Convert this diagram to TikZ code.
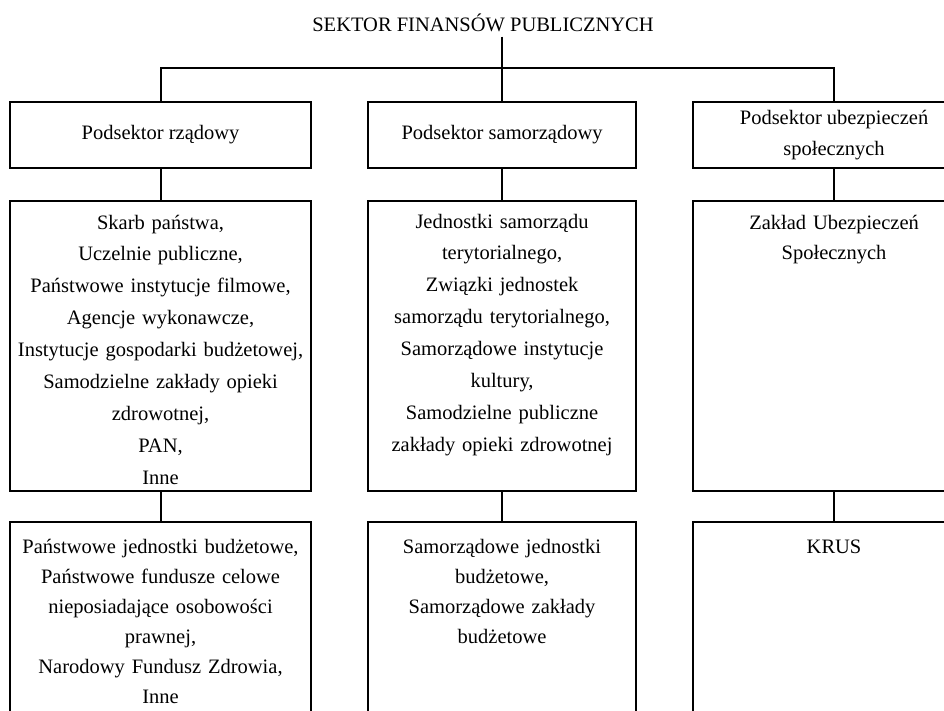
\documentclass[tikz,border=0pt]{standalone}
\usepackage{fontspec}
\setmainfont{Liberation Serif}
\usetikzlibrary{positioning}

\begin{document}
\begin{tikzpicture}[x=1pt, y=-1pt, line width=2.1pt,
    font=\fontsize{20.5}{30.5}\selectfont,
    head/.style={draw, inner sep=0pt, anchor=north west, minimum height=66pt, align=center},
    cell/.style={draw, inner sep=0pt, anchor=north west, align=center}]
    \useasboundingbox (0,0) rectangle (944,711);
    \node[anchor=base] (title) at (483,32) {SEKTOR FINANSÓW PUBLICZNYCH};
    % podsektory
    \node[head, minimum width=301pt] (p1) at (9,101) {Podsektor rządowy};
    \node[head, minimum width=268pt] (p2) at (367,101) {Podsektor samorządowy};
    \node[head, minimum width=282pt] (p3) at (692,101) {Podsektor ubezpieczeń\\społecznych};
    % jednostki
    \node[cell, text width=301pt, text height=28pt, text depth=262pt,
      font=\fontsize{20.5}{31.9}\selectfont] (g1) at (9,200)
      {Skarb państwa,\\ Uczelnie publiczne,\\ Państwowe instytucje filmowe,\\
       Agencje wykonawcze,\\ Instytucje gospodarki budżetowej,\\
       Samodzielne zakłady opieki\\ zdrowotnej,\\ PAN,\\ Inne};
    \node[cell, text width=268pt, text height=27pt, text depth=263pt,
      font=\fontsize{20.5}{31.9}\selectfont] (g2) at (367,200)
      {Jednostki samorządu\\ terytorialnego,\\ Związki jednostek\\
       samorządu terytorialnego,\\ Samorządowe instytucje\\ kultury,\\
       Samodzielne publiczne\\ zakłady opieki zdrowotnej};
    \node[cell, text width=282pt, text height=28pt, text depth=262pt] (g3) at (692,200)
      {Zakład Ubezpieczeń\\ Społecznych};
    % fundusze
    \node[cell, text width=301pt, text height=31pt, text depth=200pt,
      font=\fontsize{20.5}{30}\selectfont] (f1) at (9,521)
      {Państwowe jednostki budżetowe,\\ Państwowe fundusze celowe\\
       nieposiadające osobowości\\ prawnej,\\ Narodowy Fundusz Zdrowia,\\ Inne};
    \node[cell, text width=268pt, text height=31pt, text depth=200pt,
      font=\fontsize{20.5}{30}\selectfont] (f2) at (367,521)
      {Samorządowe jednostki\\ budżetowe,\\ Samorządowe zakłady\\ budżetowe};
    \node[cell, text width=282pt, text height=31pt, text depth=200pt] (f3) at (692,521) {KRUS};
    % polaczenia
    \coordinate (bus) at (502,68);
    \draw (title.south -| p2.north) -- (p2.north);
    \draw (p1.north) |- (bus) -| (p3.north);
    \draw (p1.south) -- (g1.north);
    \draw (p2.south) -- (g2.north);
    \draw (p3.south) -- (g3.north);
    \draw (g1.south) -- (f1.north);
    \draw (g2.south) -- (f2.north);
    \draw (g3.south) -- (f3.north);
\end{tikzpicture}
\end{document}
